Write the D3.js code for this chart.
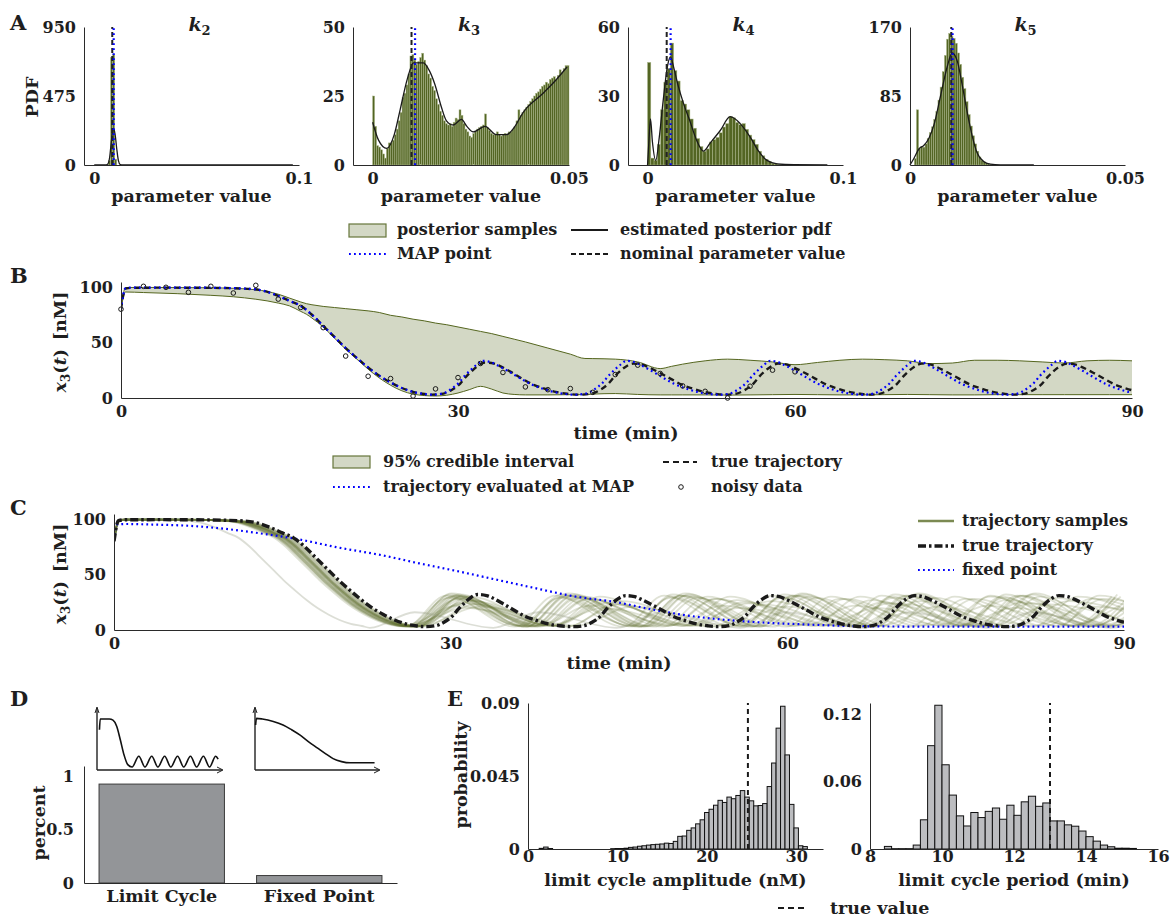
<!DOCTYPE html>
<html>
<head>
<meta charset="utf-8">
<script src="https://cdn.jsdelivr.net/npm/d3@7/dist/d3.min.js"></script>
<style>
html,body{margin:0;padding:0;background:#fff;}
svg{display:block;}
text{font-family:"DejaVu Serif",serif;font-weight:bold;fill:#1e1e1e;}
</style>
</head>
<body>
<svg id="fig" width="1170" height="918"></svg>
<script>
// ================= DATA =================
// ---- Panel A : posterior histograms ----
const k2BinStart = 0.007, k2BinWidth = 0.001;
const k2Counts = [30, 740, 760, 40];
const k2Pdf = [[0,0],[0.0055,0],[0.0065,5],[0.0075,50],[0.0085,180],[0.0093,250],[0.0102,210],[0.011,110],[0.0118,30],[0.0127,3],[0.014,0],[0.097,0]];
const k2Nominal = 0.0088, k2Map = 0.0095;

const k3BinStart = 0, k3BinWidth = 0.0005;
const k3Counts = [
 25,14,7,6.5,5.5,4,2.5,6,8,8,
 9,11,13,16,19,24.5,26,29,33,39.5,
 40,38,36.5,37.5,39,40.5,38,36,33,31.5,
 28.5,27,24,22,19.5,18,16,15,14.5,15,
 14,15.5,17,16.5,20,18,15,13,12,10.5,
 10,11.5,12,13,13.5,14,14.5,18.5,13.5,12.5,
 11.5,11,11,12,11,10.5,11,11.5,11,12,
 12,13,14,16,20,18,19,20,21,22,
 23,24,25,26,26.5,27.5,28.5,29,30,29.5,
 31,31.5,32,31,32.5,34.5,33.5,35,36,36];
const k3Pdf = [[0,15.5],[0.0015,9],[0.0036,6],[0.0055,11],[0.007,20],[0.0088,31],[0.0104,37],[0.0129,37],[0.0145,34],[0.0159,29],[0.0175,21],[0.0188,16],[0.0205,14.5],[0.0226,16.5],[0.024,14],[0.0256,12],[0.0286,14],[0.0315,11],[0.0341,11],[0.036,13.5],[0.0383,19],[0.0434,26],[0.0468,31],[0.0495,35.5]];
const k3Nominal = 0.0099, k3Map = 0.0108;

const k4BinStart = 0, k4BinWidth = 0.1 / 60;
const k4Counts = [44.6,3,2,9,24,36,42,53,41,36.5,28,26.5,24,20,16,11.5,8,6,7,10,11,12,14,16.5,18,21,20.5,18.5,17.5,18,15.5,13,11,9,6,4,2.5,1.5,0.8,0.5,0.3,0.2];
const k4Pdf = [[0,0],[0.0008,12],[0.0015,20],[0.0025,10],[0.0042,2],[0.006,12],[0.008,28],[0.0102,43],[0.0117,47],[0.0135,42],[0.0155,35],[0.0183,27],[0.0217,19],[0.025,11],[0.0286,6],[0.032,9.5],[0.0372,15],[0.0423,21],[0.0474,18],[0.0526,12],[0.0568,6],[0.0611,2],[0.0663,0.5],[0.075,0.1],[0.092,0]];
const k4Nominal = 0.0098, k4Map = 0.0118;

const k5BinStart = 0, k5BinWidth = 0.0005;
const k5Counts = [0,0,8,68,20,23,22,26,33,40,47,56,66,80,96,115,135,155,162,158,156,150,138,124,108,94,78,62,48,36,26,17,10,6,4,2.5,1.5,0.8,0.4,0.2];
const k5Pdf = [[0,0],[0.0009,8],[0.0021,20],[0.0032,24],[0.0044,33],[0.0056,50],[0.0071,85],[0.0087,122],[0.0098,138],[0.011,128],[0.0121,100],[0.0133,65],[0.0145,35],[0.0156,15],[0.0172,4],[0.0187,1],[0.021,0.2],[0.0288,0]];
const k5Nominal = 0.0096, k5Map = 0.0099;

const aNames = ['2','3','4','5'];
const aXTicks = [[0,0.1],[0,0.05],[0,0.1],[0,0.05]];
const aYTicks = [[0,475,950],[0,25,50],[0,30,60],[0,85,170]];

// ---- Panel B / C : trajectories ----
const timeTicks = [0,30,60,90];
const x3Ticks = [0,50,100];
const trueTraj = [
[0,80],[0.4,98.5],[1,99.3],[4,99.4],[8,99.2],[11,98.5],[12.5,97],[14,92],[15,87.5],[16,83],[17,75],[18,65],[19,55],[20,45],[21,36],[22,27.5],[23,20],[24,14],[25,9],[26,5.5],[27,3.6],[27.7,3],
[28.7,4],[29.4,7],[30.2,13],[30.7,19],[31.2,24],[31.7,28.5],[32.4,32],[33.2,31],[33.7,29],[34.7,23.5],[35.7,17.5],[36.7,12],[37.7,8.5],[38.7,5.5],[39.7,3.8],[40.9,3],
[41.9,4],[42.6,7],[43.4,13],[43.9,19],[44.4,24],[44.9,28],[45.6,31],[46.4,30],[46.9,28],[47.9,23],[48.9,17.5],[49.9,12],[50.9,8.5],[51.9,5.5],[52.9,3.8],[53.8,3],
[54.8,4],[55.5,7],[56.3,13],[56.8,19],[57.3,24],[57.8,28],[58.5,31],[59.3,30],[59.8,28],[60.8,23],[61.8,17.5],[62.8,12],[63.8,8.5],[64.8,5.5],[65.8,3.8],[66.6,3],
[67.6,4],[68.3,7],[69.1,13],[69.6,19],[70.1,24],[70.6,28],[71.3,31],[72.1,30],[72.6,28],[73.6,23],[74.6,17.5],[75.6,12],[76.6,8.5],[77.6,5.5],[78.6,3.8],[79.5,3],
[80.5,4],[81.2,7],[82.0,13],[82.5,19],[83.0,24],[83.5,28],[84.2,31],[85.0,30],[85.5,28],[86.5,23],[87.5,17.5],[88.5,12],[89.5,8.5],[90,7]];
const mapTraj = [
[0,80],[0.4,98.8],[1,99.5],[4,99.5],[8,99.3],[11,98.6],[12.5,97],[14,92],[15,87.5],[16,83],[17,75],[18,65],[19,55],[20,45],[21,36],[22,27.5],[23,20],[24,14],[25,9],[26,5.5],[27,3.6],[27.6,3],
[28.6,4],[29.3,7.5],[30.1,14],[30.6,20],[31.1,25],[31.6,29.5],[32.2,33.5],[33.0,32],[33.5,29.5],[34.5,24],[35.5,18],[36.5,12.5],[37.5,8.5],[38.5,5.5],[39.4,3.8],[40.4,3],
[41.4,4],[42.1,7.5],[42.9,14],[43.4,20],[43.9,25],[44.4,29.5],[45.0,33.5],[45.8,32],[46.3,29.5],[47.3,24],[48.3,18],[49.3,12.5],[50.3,8.5],[51.3,5.5],[52.2,3.8],[53.2,3],
[54.2,4],[54.9,7.5],[55.7,14],[56.2,20],[56.7,25],[57.2,29.5],[57.8,33.5],[58.6,32],[59.1,29.5],[60.1,24],[61.1,18],[62.1,12.5],[63.1,8.5],[64.1,5.5],[65.0,3.8],[66.0,3],
[67.0,4],[67.7,7.5],[68.5,14],[69.0,20],[69.5,25],[70.0,29.5],[70.6,33.5],[71.4,32],[71.9,29.5],[72.9,24],[73.9,18],[74.9,12.5],[75.9,8.5],[76.9,5.5],[77.8,3.8],[78.8,3],
[79.8,4],[80.5,7.5],[81.3,14],[81.8,20],[82.3,25],[82.8,29.5],[83.4,33.5],[84.2,32],[84.7,29.5],[85.7,24],[86.7,18],[87.7,12.5],[88.7,8.5],[89.7,5.5],[90,5]];
const ciTime  = [0,0.4,2,5,8,10,12,13,14,15,16,16.5,17,18,19,20,21,22,23,24,25,26,27,28,29,30,31,32,33,34,35,36,38,40,41.3,42,44,46,48,49,50,52,54,56,58,60,62,64,66,68,70,72,74,76,78,80,82,84,86,88,90];
const ciLower = [80,95.5,95,94,92.5,91.2,89,87.5,85.5,83,78,75.5,72,64,54,44,35,26,18,11.5,6.5,3.5,2.2,1.8,2.5,4.5,7.5,10.5,8,4.5,3.2,2.8,2.8,3,3,3.5,4,3.2,2.8,2.8,2.8,2.8,2.6,2.8,3,3.2,3,2.8,2.8,3,3.2,3,2.8,2.8,3,3,3,3,3,3,3];
const ciUpper = [80,99.5,99.6,99.5,99.3,98.8,97.5,96,93.5,90,86.5,85,84,82.5,81.5,80.5,79.5,78.5,77,74.5,73,71,69.5,67.5,66,64,62,60,58,55.5,53,50.5,45,39.5,35.6,35.5,35,32.5,26.5,28.5,30.5,33.5,35,34,32.5,30,32,34,35,34.5,33.5,31,31.5,34,34,33.5,32.5,31.5,33.5,34,33.5];
const dataTime = [0,2,4,6,8,10,12,14,16,18,20,22,24,26,28,30,32,34,36,38,40,42,44,46,48,50,52,54,56,58,60];
const dataX3   = [80,100.6,99.7,95.2,100.6,94.6,101.5,89.1,81.6,63.4,37.8,19.6,17.5,1.8,8.2,18.4,31.1,23,10,7.5,8.5,5.1,21.1,29.6,22.1,10.9,6,0,10.6,25.1,23.6];

const fixedPointTraj = [[0,81],[0.3,95],[1,95.5],[3.4,95],[6.8,93.8],[10.2,90.8],[13.6,86.2],[15.6,83.2],[20.4,73.5],[23.8,67.5],[27.2,60],[30.6,53],[34,45.5],[37.4,38],[40.9,30.5],[44.8,25],[48.2,18],[51.5,12.5],[54.9,8.8],[58.2,6.5],[61.6,5],[64.9,3.8],[68.3,3.2],[75,3],[90,3]];
// trajectory samples: alternating trough / peak times (first entry = first trough)
const sampleExtremaTimes = [
 [26.8,30.5,36.8,40.5,46.8,50.5,56.8,60.5,66.8,70.5,76.8,80.5,86.8,90.5],
 [26.5,30.1,36.3,39.9,46.1,49.7,55.9,59.5,65.7,69.3,75.5,79.1,85.3,88.9],
 [27.0,30.8,37.2,41.0,47.4,51.2,57.6,61.4,67.8,71.6,78.0,81.8,88.2,92.0],
 [26.2,29.8,36.1,39.7,46.0,49.6,55.9,59.5,65.8,69.4,75.7,79.3,85.6,89.2],
 [26.6,30.3,36.7,40.4,46.8,50.5,56.9,60.6,67.0,70.7,77.1,80.8,87.2,90.9],
 [27.3,31.0,37.3,41.0,47.3,51.0,57.3,61.0,67.3,71.0,77.3,81.0,87.3,91.0],
 [26.9,30.9,37.9,41.9,48.9,52.9,59.9,63.9,70.9,74.9,81.9,85.9,92.9],
 [26.5,30.7,38.0,42.2,49.5,53.7,61.0,65.2,72.5,76.7,84.0,88.2,95.5],
 [27.1,31.5,39.1,43.5,51.1,55.5,63.1,67.5,75.1,79.5,87.1,91.5],
 [26.8,31.3,39.2,43.7,51.6,56.1,64.0,68.5,76.4,80.9,88.8,93.3],
 [27.5,32.2,40.3,45.0,53.1,57.8,65.9,70.6,78.7,83.4,91.5],
 [26.3,30.6,38.1,42.4,49.9,54.2,61.7,66.0,73.5,77.8,85.3,89.6],
 [27.0,31.9,40.3,45.2,53.6,58.5,66.9,71.8,80.2,85.1,93.5],
 [26.0,29.6,35.7,39.3,45.4,49.0,55.1,58.7,64.8,68.4,74.5,78.1,84.2,87.8,93.9],
 [27.2,31.0,37.5,41.3,47.8,51.6,58.1,61.9,68.4,72.2,78.7,82.5,89.0,92.8],
 [26.7,31.3,39.3,43.9,51.9,56.5,64.5,69.1,77.1,81.7,89.7,94.3],
 [26.9,30.8,37.5,41.4,48.1,52.0,58.7,62.6,69.3,73.2,79.9,83.8,90.5],
 [27.6,32.6,41.2,46.2,54.8,59.8,68.4,73.4,82.0,87.0,95.6],
 [26.4,30.0,36.3,39.9,46.2,49.8,56.1,59.7,66.0,69.6,75.9,79.5,85.8,89.4],
 [27.0,31.1,38.2,42.3,49.4,53.5,60.6,64.7,71.8,75.9,83.0,87.1,94.2],
 [22.8,26.8,33.8,37.8,44.8,48.8,55.8,59.8,66.8,70.8,77.8,81.8,88.8,92.8],
 [26.8,31.3,39.0,43.5,51.2,55.7,63.4,67.9,75.6,80.1,87.8,92.3],
 [26.3,30.1,36.7,40.5,47.1,50.9,57.5,61.3,67.9,71.7,78.3,82.1,88.7,92.5],
 [27.4,31.7,39.0,43.3,50.6,54.9,62.2,66.5,73.8,78.1,85.4,89.7]];
const samplePeak   = [31,30,32,29,31,31,30,28,27,25,23,22,26,31,30,24,29,21,32,28,16,20,33,30];
const sampleTrough = [3,3.5,3,4,3,3.5,3,4,3.5,4,3,4.5,3,3,3.5,4,3,4,3,3.5,2,4.5,3,3.5];

// ---- Panel D ----
const dCategories = ['Limit Cycle','Fixed Point'];
const dFraction = [0.93, 0.07];
const dTicks = [0,0.5,1];
const lcInset = [[2,67],[2.6,85],[10,85],[13,83],[16,73],[19,50],[22,25],[25,9],[28.5,5],[34,23],[39,5],[44.5,23],[49.5,5],[55,23],[60,5],[65.5,23],[70.5,5],[76,23],[81,5],[86.5,23],[91.5,5],[96.5,23],[98.5,18]];
const fpInset = [[0.5,75],[1.2,86],[6,85],[15,81],[23,75],[30,67],[37,58],[44,47],[51,37],[58,27],[64,19],[71,14],[78,12],[85,12],[98,12]];

// ---- Panel E ----
const ampBinStart = 1.25, ampBinWidth = 0.5;
const ampProb = [0.0004,0.0012,0.0003,0,0,0,0,0,0,0,0,0,0,0,0,0,
 0.0002,0.0003,0.0003,0.0005,
 0.001,0.0012,0.0017,0.002,0.0024,0.0027,0.0029,0.0031,0.0036,0.0034,
 0.0047,0.0078,0.008,0.0115,0.013,0.0155,0.018,0.0225,0.0245,0.027,
 0.03,0.0287,0.032,0.031,0.033,0.036,0.032,0.0297,0.0266,0.0268,
 0.028,0.0385,0.053,0.0745,0.088,0.058,0.0275,0.013,0.002,0.0015];
const ampTrue = 24.6;
const ampXTicks = [0,10,20,30], ampYTicks = [0,0.045,0.09];
const perBinStart = 8.4, perBinWidth = 0.2;
const perProb = [0.0023,0.0003,0.0003,0.0003,0.0035,0.026,0.092,0.128,0.075,0.048,0.0295,0.0205,0.0325,0.028,0.0335,0.0365,0.0265,0.039,0.030,0.042,0.047,0.038,0.041,0.025,0.025,0.0215,0.0203,0.016,0.011,0.007,0.0035,0.002,0.0007,0.0007,0.0005];
const perTrue = 13;
const perXTicks = [8,10,12,14,16], perYTicks = [0,0.06,0.12];

// ================= DRAWING =================
const svg = d3.select('#fig');
const AXC = '#2a2a2a';
const OLIVE = '#55661f';
const BLUE = '#0000ff';
const DOT = '1.8,3.2';
const LAB = 17.5;   // axis-title size

function txt(g, x, y, s, size, anchor){
  return g.append('text').attr('x',x).attr('y',y).attr('text-anchor',anchor||'start').style('font-size',(size||16)+'px').text(s);
}
function axes(g, x, y, xt, yt, xf, yf, xpad){
  const gx = g.append('g').attr('transform',`translate(0,${y.range()[0]})`)
    .call(d3.axisBottom(x).tickValues(xt).tickFormat(xf).tickSizeInner(0).tickSizeOuter(0).tickPadding(xpad==null?8:xpad));
  const gy = g.append('g').attr('transform',`translate(${x.range()[0]},0)`)
    .call(d3.axisLeft(y).tickValues(yt).tickFormat(yf).tickSizeInner(0).tickSizeOuter(0).tickPadding(8));
  [gx,gy].forEach(a=>{
    a.select('.domain').attr('stroke',AXC).attr('stroke-width',1);
    a.selectAll('.tick line').remove();
    a.selectAll('text').style('font-size','16px').attr('fill','#1e1e1e');
  });
}
const numFmt = d => d===0 ? '0' : String(d);

// ---------- Panel A ----------
txt(svg, 10, 30, 'A', 21);
const aHist = [
  {counts:k2Counts, start:k2BinStart, w:k2BinWidth, pdf:k2Pdf, nom:k2Nominal, map:k2Map, xDom:[-0.005,0.1], xR:[84,299]},
  {counts:k3Counts, start:k3BinStart, w:k3BinWidth, pdf:k3Pdf, nom:k3Nominal, map:k3Map, xDom:[-0.005,0.05], xR:[353,569]},
  {counts:k4Counts, start:k4BinStart, w:k4BinWidth, pdf:k4Pdf, nom:k4Nominal, map:k4Map, xDom:[-0.01,0.1], xR:[628,843]},
  {counts:k5Counts, start:k5BinStart, w:k5BinWidth, pdf:k5Pdf, nom:k5Nominal, map:k5Map, xDom:[0,0.05], xR:[910,1125]}
];
aHist.forEach((h,i)=>{
  const g = svg.append('g');
  const yt = aYTicks[i];
  const x = d3.scaleLinear().domain(h.xDom).range(h.xR);
  const y = d3.scaleLinear().domain([0, yt[2]]).range([165,27]);
  const bins = h.counts.map((v,j)=>({x0:h.start + j*h.w, v}));
  g.selectAll('rect.bar').data(bins.filter(b=>b.v>0)).join('rect')
    .attr('x',b=>x(b.x0)).attr('width',b=>Math.max(0.6, x(b.x0+h.w)-x(b.x0)))
    .attr('y',b=>y(b.v)).attr('height',b=>y(0)-y(b.v))
    .attr('fill','#536523').attr('stroke','#aab68a').attr('stroke-width',0.5);
  g.append('path').datum(h.pdf)
    .attr('d', d3.line().x(d=>x(d[0])).y(d=>y(d[1])).curve(d3.curveMonotoneX))
    .attr('fill','none').attr('stroke','#1a1a1a').attr('stroke-width',1.3);
  g.append('line').attr('x1',x(h.nom)).attr('x2',x(h.nom)).attr('y1',y(0)).attr('y2',y(yt[2]))
    .attr('stroke','#222').attr('stroke-width',2).attr('stroke-dasharray','5,3');
  g.append('line').attr('x1',x(h.map)).attr('x2',x(h.map)).attr('y1',y(0)).attr('y2',y(yt[2]))
    .attr('stroke',BLUE).attr('stroke-width',2.2).attr('stroke-dasharray',DOT);
  axes(g, x, y, aXTicks[i], yt, numFmt, numFmt);
  const cx = (h.xR[0]+h.xR[1])/2;
  txt(g, cx, 202, 'parameter value', LAB, 'middle');
  const t = g.append('text').attr('x', cx+8).attr('y', 31).attr('text-anchor','middle').style('font-size','19px');
  t.append('tspan').text('k').style('font-style','italic');
  t.append('tspan').text(aNames[i]).attr('dy',4).style('font-size','13px');
});
svg.append('text').attr('transform','translate(38,97) rotate(-90)').attr('text-anchor','middle').style('font-size',LAB+'px').text('PDF');

// legend A
(function(){
  const g = svg.append('g');
  g.append('rect').attr('x',349).attr('y',224).attr('width',37).attr('height',13).attr('fill','#d3d8c5').attr('stroke','#66763a').attr('stroke-width',1.2);
  txt(g, 397, 235, 'posterior samples');
  g.append('line').attr('x1',349).attr('x2',386).attr('y1',254).attr('y2',254).attr('stroke',BLUE).attr('stroke-width',2.2).attr('stroke-dasharray',DOT);
  txt(g, 397, 259, 'MAP point');
  g.append('line').attr('x1',571).attr('x2',608).attr('y1',230).attr('y2',230).attr('stroke','#1a1a1a').attr('stroke-width',2);
  txt(g, 620, 235, 'estimated posterior pdf');
  g.append('line').attr('x1',571).attr('x2',608).attr('y1',254).attr('y2',254).attr('stroke','#1a1a1a').attr('stroke-width',2).attr('stroke-dasharray','5,3');
  txt(g, 620, 259, 'nominal parameter value');
})();

function x3Label(g, cx, cy){
  const t = g.append('text').attr('transform',`translate(${cx},${cy}) rotate(-90)`).attr('text-anchor','middle').style('font-size','17.5px');
  t.append('tspan').text('x').style('font-style','italic');
  t.append('tspan').text('3').attr('dy',4).style('font-size','12px');
  t.append('tspan').text('(').attr('dy',-4);
  t.append('tspan').text('t').style('font-style','italic');
  t.append('tspan').text(')\u2002[nM]');
}

// ---------- Panel B ----------
(function(){
  const g = svg.append('g');
  txt(svg, 10, 283, 'B', 21);
  const x = d3.scaleLinear().domain([0,90]).range([121,1132]);
  const y = d3.scaleLinear().domain([0,104.5]).range([398,282]);
  svg.append('clipPath').attr('id','clipB').append('rect').attr('x',121).attr('y',270).attr('width',1011).attr('height',132);
  const band = ciTime.map((t,i)=>[t, ciLower[i], ciUpper[i]]);
  const pg = g.append('g').attr('clip-path','url(#clipB)');
  pg.append('path').datum(band)
    .attr('d', d3.area().x(d=>x(d[0])).y0(d=>y(d[1])).y1(d=>y(d[2])).curve(d3.curveMonotoneX))
    .attr('fill','#d3d8c5');
  [1,2].forEach(k=>{
    pg.append('path').datum(band)
      .attr('d', d3.line().x(d=>x(d[0])).y(d=>y(d[k])).curve(d3.curveMonotoneX))
      .attr('fill','none').attr('stroke',OLIVE).attr('stroke-width',1);
  });
  const line = d3.line().x(d=>x(d[0])).y(d=>y(d[1])).curve(d3.curveMonotoneX);
  pg.append('path').datum(trueTraj).attr('d',line).attr('fill','none').attr('stroke','#1a1a1a').attr('stroke-width',2.4).attr('stroke-dasharray','6,4');
  pg.append('path').datum(mapTraj).attr('d',line).attr('fill','none').attr('stroke',BLUE).attr('stroke-width',2.2).attr('stroke-dasharray',DOT);
  g.selectAll('circle.d').data(dataTime.map((t,i)=>[t,dataX3[i]])).join('circle')
    .attr('cx',d=>x(d[0])).attr('cy',d=>y(d[1])).attr('r',2.3)
    .attr('fill','none').attr('stroke','#1a1a1a').attr('stroke-width',1);
  axes(g, x, y, timeTicks, x3Ticks, numFmt, numFmt);
  txt(g, 626, 439, 'time (min)', LAB, 'middle');
  x3Label(g, 66, 342);
  // legend
  g.append('rect').attr('x',333).attr('y',456).attr('width',37).attr('height',12).attr('fill','#d3d8c5').attr('stroke','#66763a').attr('stroke-width',1.2);
  txt(g, 383, 467, '95% credible interval');
  g.append('line').attr('x1',333).attr('x2',370).attr('y1',487).attr('y2',487).attr('stroke',BLUE).attr('stroke-width',2.2).attr('stroke-dasharray',DOT);
  txt(g, 383, 492, 'trajectory evaluated at MAP');
  g.append('line').attr('x1',663).attr('x2',697).attr('y1',462).attr('y2',462).attr('stroke','#1a1a1a').attr('stroke-width',2.2).attr('stroke-dasharray','6,4');
  txt(g, 711, 467, 'true trajectory');
  g.append('circle').attr('cx',681).attr('cy',487).attr('r',2.3).attr('fill','none').attr('stroke','#1a1a1a').attr('stroke-width',1);
  txt(g, 711, 492, 'noisy data');
})();

// ---------- Panel C ----------
(function(){
  const g = svg.append('g');
  txt(svg, 10, 515, 'C', 21);
  const x = d3.scaleLinear().domain([0,90]).range([114,1124]);
  const y = d3.scaleLinear().domain([0,104.5]).range([630,514]);
  svg.append('clipPath').attr('id','clipC').append('rect').attr('x',114).attr('y',505).attr('width',1010).attr('height',128);
  const pg = g.append('g').attr('clip-path','url(#clipC)');
  const line = d3.line().x(d=>x(d[0])).y(d=>y(d[1])).curve(d3.curveMonotoneX);
  const early = trueTraj.filter(d=>d[0] < 27.2);
  sampleExtremaTimes.forEach((times,i)=>{
    const shift = times[0] - 27.7;
    const pts = early.map(d=> d[0] >= 11 ? [d[0]+shift, d[1]] : [d[0], d[1]]);
    times.forEach((t,j)=> pts.push([t, j%2===0 ? sampleTrough[i] : samplePeak[i]]));
    pg.append('path').datum(pts).attr('d',line).attr('fill','none')
      .attr('stroke', i===20 ? '#9aa08a' : '#5e6f2b')
      .attr('stroke-opacity', i===20 ? 0.35 : 0.2).attr('stroke-width',1.8);
  });
  pg.append('path').datum(fixedPointTraj).attr('d',line).attr('fill','none').attr('stroke',BLUE).attr('stroke-width',2.2).attr('stroke-dasharray',DOT);
  pg.append('path').datum(trueTraj).attr('d',line).attr('fill','none').attr('stroke','#1a1a1a').attr('stroke-width',3.4).attr('stroke-dasharray','8,3,2.5,3');
  axes(g, x, y, timeTicks, x3Ticks, numFmt, numFmt);
  txt(g, 619, 669, 'time (min)', LAB, 'middle');
  x3Label(g, 66, 574);
  // legend
  g.append('line').attr('x1',918).attr('x2',954).attr('y1',521).attr('y2',521).attr('stroke','#7b8a52').attr('stroke-width',2.5);
  txt(g, 962, 526, 'trajectory samples');
  g.append('line').attr('x1',918).attr('x2',954).attr('y1',546).attr('y2',546).attr('stroke','#1a1a1a').attr('stroke-width',3.4).attr('stroke-dasharray','8,3,2.5,3');
  txt(g, 962, 551, 'true trajectory');
  g.append('line').attr('x1',918).attr('x2',954).attr('y1',570).attr('y2',570).attr('stroke',BLUE).attr('stroke-width',2.2).attr('stroke-dasharray',DOT);
  txt(g, 962, 575, 'fixed point');
})();

// ---------- Panel D ----------
(function(){
  const g = svg.append('g');
  txt(svg, 10, 706, 'D', 21);
  const x = d3.scaleBand().domain(dCategories).range([84,397]).paddingInner(0.204).paddingOuter(0.0955);
  const y = d3.scaleLinear().domain([0,1.1]).range([883,766]);
  g.selectAll('rect.dbar').data(dCategories.map((c,i)=>[c,dFraction[i]])).join('rect')
    .attr('x',d=>x(d[0])).attr('width',x.bandwidth()).attr('y',d=>y(d[1])).attr('height',d=>y(0)-y(d[1]))
    .attr('fill','#939598').attr('stroke','#3a3a3a').attr('stroke-width',1);
  const gx = g.append('g').attr('transform','translate(0,883)').call(d3.axisBottom(x).tickSizeInner(0).tickSizeOuter(0).tickPadding(7));
  const gy = g.append('g').attr('transform','translate(84,0)').call(d3.axisLeft(y).tickValues(dTicks).tickFormat(numFmt).tickSizeInner(0).tickSizeOuter(0).tickPadding(10));
  [gx,gy].forEach(a=>{ a.select('.domain').attr('stroke',AXC); a.selectAll('.tick line').remove(); a.selectAll('text').style('font-size','16px').attr('fill','#1e1e1e'); });
  gx.selectAll('text').style('font-size',LAB+'px');
  g.append('text').attr('transform','translate(45,823) rotate(-90)').attr('text-anchor','middle').style('font-size',LAB+'px').text('percent');
  // insets
  const insets = [[lcInset, 97, 220], [fpInset, 255, 377]];
  insets.forEach(([data, x0, x1])=>{
    const ix = d3.scaleLinear().domain([0,100]).range([x0, x1]);
    const iy = d3.scaleLinear().domain([0,100]).range([770,710]);
    g.append('path').attr('d',`M${x0},770H${x1+2}M${x0},770V709`).attr('stroke','#222').attr('stroke-width',1.4).attr('fill','none');
    g.append('path').attr('d',`M${x1-3},767L${x1+3},770L${x1-3},773`).attr('stroke','#222').attr('stroke-width',1).attr('fill','none');
    g.append('path').attr('d',`M${x0-2},713L${x0},707L${x0+2},713`).attr('stroke','#222').attr('stroke-width',1).attr('fill','none');
    g.append('path').datum(data).attr('d', d3.line().x(d=>ix(d[0])).y(d=>iy(d[1])).curve(d3.curveMonotoneX))
      .attr('fill','none').attr('stroke','#111').attr('stroke-width',1.6);
  });
})();

// ---------- Panel E ----------
(function(){
  txt(svg, 447, 706, 'E', 21);
  const hists = [
    {prob:ampProb, start:ampBinStart, w:ampBinWidth, tru:ampTrue, xDom:[0,33], xR:[528,823], yDom:[0,0.09], xt:ampXTicks, yt:ampYTicks, label:'limit cycle amplitude (nM)'},
    {prob:perProb, start:perBinStart, w:perBinWidth, tru:perTrue, xDom:[8,16], xR:[870,1158], yDom:[0,0.13], xt:perXTicks, yt:perYTicks, label:'limit cycle period (min)'}
  ];
  hists.forEach(h=>{
    const g = svg.append('g');
    const x = d3.scaleLinear().domain(h.xDom).range(h.xR);
    const y = d3.scaleLinear().domain(h.yDom).range([849,703]);
    const bins = h.prob.map((v,j)=>({x0:h.start + j*h.w, v})).filter(b=>b.v>0);
    g.selectAll('rect').data(bins).join('rect')
      .attr('x',b=>x(b.x0)).attr('width',b=>x(b.x0+h.w)-x(b.x0))
      .attr('y',b=>y(b.v)).attr('height',b=>y(0)-y(b.v))
      .attr('fill','#bcbdc0').attr('stroke','#111').attr('stroke-width',1);
    g.append('line').attr('x1',x(h.tru)).attr('x2',x(h.tru)).attr('y1',y(0)).attr('y2',703)
      .attr('stroke','#1a1a1a').attr('stroke-width',2).attr('stroke-dasharray','5,4');
    axes(g, x, y, h.xt, h.yt, numFmt, numFmt, 2);
    txt(g, (h.xR[0]+h.xR[1])/2, 886, h.label, LAB, 'middle');
  });
  svg.append('text').attr('transform','translate(467,775) rotate(-90)').attr('text-anchor','middle').style('font-size',LAB+'px').text('probability');
  svg.append('line').attr('x1',778).attr('x2',808).attr('y1',908).attr('y2',908).attr('stroke','#1a1a1a').attr('stroke-width',2.2).attr('stroke-dasharray','6,4');
  txt(svg, 830, 914, 'true value', LAB);
})();
</script>
</body>
</html>
